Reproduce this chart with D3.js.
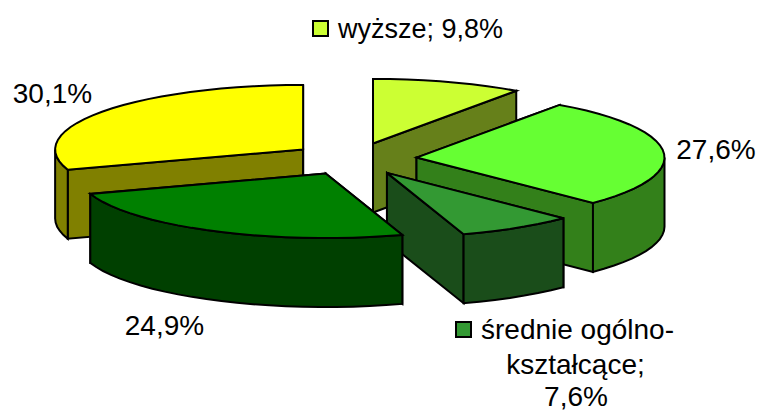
<!DOCTYPE html>
<html>
<head>
<meta charset="utf-8">
<script src="https://cdn.jsdelivr.net/npm/d3@7/dist/d3.min.js"></script>
<style>
html,body{margin:0;padding:0;background:#fff}
svg{display:block}
text{font-family:"Liberation Sans",Arial,sans-serif;font-size:28px;fill:#000}
</style>
</head>
<body>
<svg id="c" width="758" height="412"></svg>
<script>
const categories = ["wyższe", "", "średnie ogólnokształcące", "", ""];
const values = [9.8, 27.6, 7.6, 24.9, 30.1];
const colors = ["#CCFF33", "#66FF33", "#339933", "#008000", "#FFFF00"];
const wrappedLabel = ["średnie ogólno-", "kształcące;", "7,6%"];
const drawOrder = [0, 4, 1, 2, 3];

const cx = 354, cy = 159, rx = 248, ry = 64.5, depth = 69, explode = 0.253;
const svg = d3.select("#c");

const arcs = d3.pie().sort(null).value(d => d)(values);
const line = d3.line();
const px = (x0, a) => x0 + rx * Math.sin(a);
const py = (y0, a) => y0 - ry * Math.cos(a);
const half = c => { const r = d3.rgb(c); return d3.rgb(r.r * .5, r.g * .5, r.b * .5).formatHex(); };

function arcPoints(x0, y0, a0, a1, dy) {
  const n = Math.max(2, Math.ceil(Math.abs(a1 - a0) / (4 * Math.PI / 180)));
  return d3.range(n + 1).map(i => {
    const a = a0 + (a1 - a0) * i / n;
    return [px(x0, a), py(y0, a) + dy];
  });
}
function face(points, fill) {
  svg.append("path").attr("d", line(points) + "Z")
    .attr("fill", fill).attr("stroke", "#000").attr("stroke-width", 2)
    .attr("stroke-linejoin", "miter");
}

drawOrder.forEach(i => {
  const d = arcs[i], mid = (d.startAngle + d.endAngle) / 2;
  const x0 = cx + rx * explode * Math.sin(mid);
  const y0 = cy - ry * explode * Math.cos(mid);
  const side = half(colors[i]);

  // radial cut faces
  [d.startAngle, d.endAngle].forEach(a => {
    face([[x0, y0], [px(x0, a), py(y0, a)], [px(x0, a), py(y0, a) + depth], [x0, y0 + depth]], side);
  });
  // outer wall: only the front half of the ellipse is visible
  const lo = Math.max(d.startAngle, Math.PI / 2), hi = Math.min(d.endAngle, 3 * Math.PI / 2);
  if (hi > lo) {
    face(arcPoints(x0, y0, lo, hi, 0).concat(arcPoints(x0, y0, hi, lo, depth)), side);
  }
  // top
  face([[x0, y0]].concat(arcPoints(x0, y0, d.startAngle, d.endAngle, 0)), colors[i]);
});

// labels
const fmt = v => v.toFixed(1).replace(".", ",") + "%";
const plainLabels = [
  {i: 4, x: 52.5, y: 103},
  {i: 1, x: 716, y: 159},
  {i: 3, x: 164.5, y: 335}
];
plainLabels.forEach(l => svg.append("text").attr("x", l.x).attr("y", l.y)
  .attr("text-anchor", "middle").text(fmt(values[l.i])));

function key(x, y, fill) {
  svg.append("rect").attr("x", x).attr("y", y).attr("width", 15).attr("height", 15)
    .attr("fill", fill).attr("stroke", "#000").attr("stroke-width", 2);
}
key(313, 21, colors[0]);
svg.append("text").attr("x", 338).attr("y", 38).style("font-size", "27px")
  .text(categories[0] + "; " + fmt(values[0]));

key(456, 322, colors[2]);
svg.append("text").attr("x", 481).attr("y", 339).text(wrappedLabel[0]);
svg.append("text").attr("x", 575.5).attr("y", 374).attr("text-anchor", "middle").text(wrappedLabel[1]);
svg.append("text").attr("x", 576).attr("y", 406).attr("text-anchor", "middle").text(wrappedLabel[2]);
</script>
</body>
</html>
